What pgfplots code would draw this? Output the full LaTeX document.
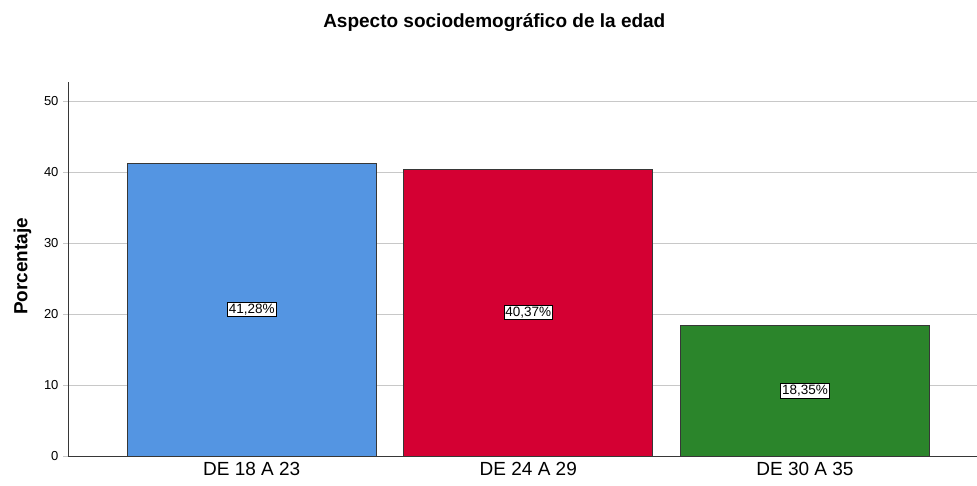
\documentclass[border=0pt]{standalone}
\usepackage{pgfplots}
\pgfplotsset{compat=1.18}
\usepackage{fontspec}
\setmainfont{Liberation Sans}
\definecolor{cblue}{RGB}{84,149,226}
\definecolor{cred}{RGB}{212,0,51}
\definecolor{cgreen}{RGB}{43,133,43}
\definecolor{gridc}{RGB}{200,200,200}
\definecolor{edgec}{RGB}{55,55,55}
\begin{document}
\begin{tikzpicture}[x=1pt,y=1pt]
\useasboundingbox (-68pt,-30pt) rectangle (909pt,456pt);
\begin{axis}[
  at={(0,0)}, anchor=south west,
  scale only axis, width=909pt, height=374pt,
  xmin=-0.664, xmax=2.622, ymin=0, ymax=52.7,
  axis x line*=bottom, axis y line*=left,
  axis line style={edgec, line width=0.8pt},
  xtick={0,1,2}, xticklabels={DE 18 A 23, DE 24 A 29, DE 30 A 35},
  ytick={0,10,20,30,40,50},
  ymajorgrids, grid style={gridc, line width=0.9pt},
  major x tick style={draw=none},
  major y tick style={gridc, line width=0.9pt},
  tick align=outside, major tick length=5pt,
  /pgf/number format/assume math mode=true,
  yticklabel style={font=\fontsize{13}{15}\selectfont, xshift=-1pt},
  xticklabel style={font=\fontsize{19}{21}\selectfont, yshift=2pt},
  ylabel={\textbf{Porcentaje}},
  ylabel style={font=\fontsize{19}{21}\selectfont, at={(axis description cs:-0.050,0.507)}, anchor=center},
  title={\textbf{Aspecto sociodemográfico de la edad}},
  title style={font=\fontsize{19}{21}\selectfont, at={(axis description cs:0.469,1.143)}, anchor=center},
  ybar, bar width=0.9, bar shift=0pt,
  point meta=explicit symbolic,
  nodes near coords,
  visualization depends on={y \as \rawy},
  every node near coord/.append style={anchor=center, shift={(axis direction cs:0,-\rawy/2)},
     font=\fontsize{13.5}{15}\selectfont, fill=white, draw=black, line width=0.7pt, inner xsep=1.5pt, inner ysep=1.5pt, text=black},
]
\addplot[fill=cblue, draw=edgec, line width=0.9pt] coordinates {(0,41.28) [41,28\%]};
\addplot[fill=cred, draw=edgec, line width=0.9pt] coordinates {(1,40.37) [40,37\%]};
\addplot[fill=cgreen, draw=edgec, line width=0.9pt] coordinates {(2,18.35) [18,35\%]};
\end{axis}
\end{tikzpicture}
\end{document}
